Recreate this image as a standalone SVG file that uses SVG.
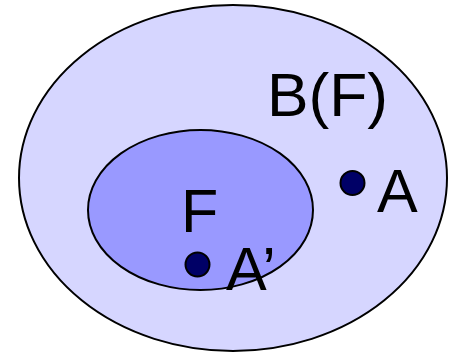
<svg xmlns="http://www.w3.org/2000/svg" width="462" height="355" viewBox="0 0 462 355">
<style>
.e{stroke:#000;stroke-width:2}
.dot{fill:#000066;stroke:#000;stroke-width:2}
.t{font-family:"Liberation Sans",Arial,sans-serif;font-size:61px;fill:#000}
</style>
<rect width="462" height="355" fill="#fff"/>
<g id="BF">
<ellipse class="e" cx="233" cy="178" rx="214" ry="173" fill="#D6D6FF"/>
<text class="t" x="267" y="115.5" textLength="121" lengthAdjust="spacingAndGlyphs">B(F)</text>
</g>
<g id="F">
<ellipse class="e" cx="200.5" cy="210" rx="112.5" ry="80" fill="#9999FF"/>
<text class="t" x="181" y="231.5">F</text>
</g>
<g id="A">
<circle class="dot" cx="352.5" cy="183" r="12"/>
<text class="t" x="377" y="211.5">A</text>
</g>
<g id="A2">
<circle class="dot" cx="197.5" cy="264.5" r="12"/>
<text class="t" x="226" y="289.5">A’</text>
</g>
<g id="connectors"/>
</svg>
